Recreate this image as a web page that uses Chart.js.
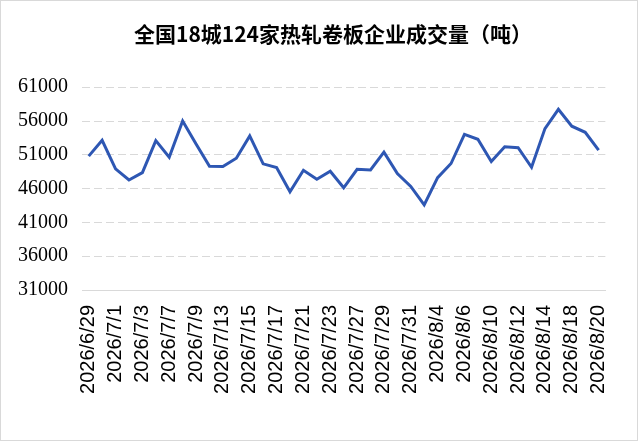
<!DOCTYPE html>
<html>
<head>
<meta charset="utf-8">
<script src="https://cdn.jsdelivr.net/npm/chart.js@4"></script>
<style>
    html, body { margin: 0; padding: 0; background: #fff; }
    #wrap { position: relative; width: 638px; height: 441px; }
    #frame { position: absolute; left: 0; top: 0; width: 636px; height: 439px; border: 1px solid #d9d9d9; pointer-events: none; }
</style>
</head>
<body>
<div id="wrap">
    <canvas id="grafico" width="638" height="441"></canvas>
    <div id="frame"></div>
</div>
<script>
// ===================== DADOS =====================
const titulo = "全国18城124家热轧卷板企业成交量（吨）";

const datas = [
    "2026/6/29", "2026/6/30", "2026/7/1", "2026/7/2", "2026/7/3",
    "2026/7/6", "2026/7/7", "2026/7/8", "2026/7/9", "2026/7/10",
    "2026/7/13", "2026/7/14", "2026/7/15", "2026/7/16", "2026/7/17",
    "2026/7/20", "2026/7/21", "2026/7/22", "2026/7/23", "2026/7/24",
    "2026/7/27", "2026/7/28", "2026/7/29", "2026/7/30", "2026/7/31",
    "2026/8/3", "2026/8/4", "2026/8/5", "2026/8/6", "2026/8/7",
    "2026/8/10", "2026/8/11", "2026/8/12", "2026/8/13", "2026/8/14",
    "2026/8/17", "2026/8/18", "2026/8/19", "2026/8/20"
];

const volume = [
    50800, 53140, 48910, 47270, 48360,
    53090, 50650, 56000, 52600, 49310,
    49260, 50500, 53790, 49660, 49110,
    45530, 48710, 47370, 48560, 46120,
    48860, 48760, 51400, 48210, 46320,
    43590, 47620, 49710, 54030, 53290,
    50000, 52190, 52050, 49160, 54880,
    57720, 55230, 54330, 51700
];

const yMin = 31000;
const yMax = 61000;
const yPasso = 5000;

// ===================== GRÁFICO =====================
const ctx = document.getElementById("grafico").getContext("2d");

new Chart(ctx, {
    type: "line",
    data: {
        labels: datas,
        datasets: [{
            label: "成交量",
            data: volume,
            borderColor: "#2E57B3",
            borderWidth: 3,
            pointRadius: 0,
            tension: 0,
            fill: false
        }]
    },
    options: {
        responsive: false,
        animation: false,
        // padding negativo + eixo vazio à direita: título fica centralizado como no original
        layout: { padding: { left: 0, right: -28, top: 0, bottom: 0 } },
        plugins: {
            legend: { display: false },
            tooltip: { enabled: false },
            title: {
                display: true,
                text: titulo,
                color: "#000",
                font: { family: "'Noto Sans CJK SC', 'DejaVu Serif', serif", size: 21, weight: "bold" },
                padding: { top: 21, bottom: 41 }
            }
        },
        scales: {
            x: {
                offset: true,
                grid: { display: false, drawTicks: false },
                border: { display: true, color: "#d9d9d9", width: 1 },
                ticks: {
                    autoSkip: false,
                    maxRotation: 90,
                    minRotation: 90,
                    padding: 15,
                    color: "#000",
                    font: { family: "'Liberation Sans', Arial, sans-serif", size: 20 },
                    callback: function (valor, indice) {
                        return indice % 2 === 0 ? datas[indice] : "";
                    }
                },
                afterFit: function (escala) { escala.height = 151; }
            },
            y: {
                min: yMin,
                max: yMax,
                grid: { color: "#d9d9d9", lineWidth: 1, drawTicks: false },
                border: { display: false, dash: [8, 4] },
                ticks: {
                    stepSize: yPasso,
                    padding: 14,
                    color: "#000",
                    font: { family: "'Liberation Serif', 'Times New Roman', serif", size: 20 },
                    callback: function (valor) { return String(valor); }
                },
                afterFit: function (escala) { escala.width = 82; }
            },
            direita: {
                type: "linear",
                position: "right",
                display: true,
                grid: { display: false, drawTicks: false },
                border: { display: false },
                ticks: { display: false },
                afterFit: function (escala) { escala.width = 56; }
            }
        }
    }
});
</script>
</body>
</html>
